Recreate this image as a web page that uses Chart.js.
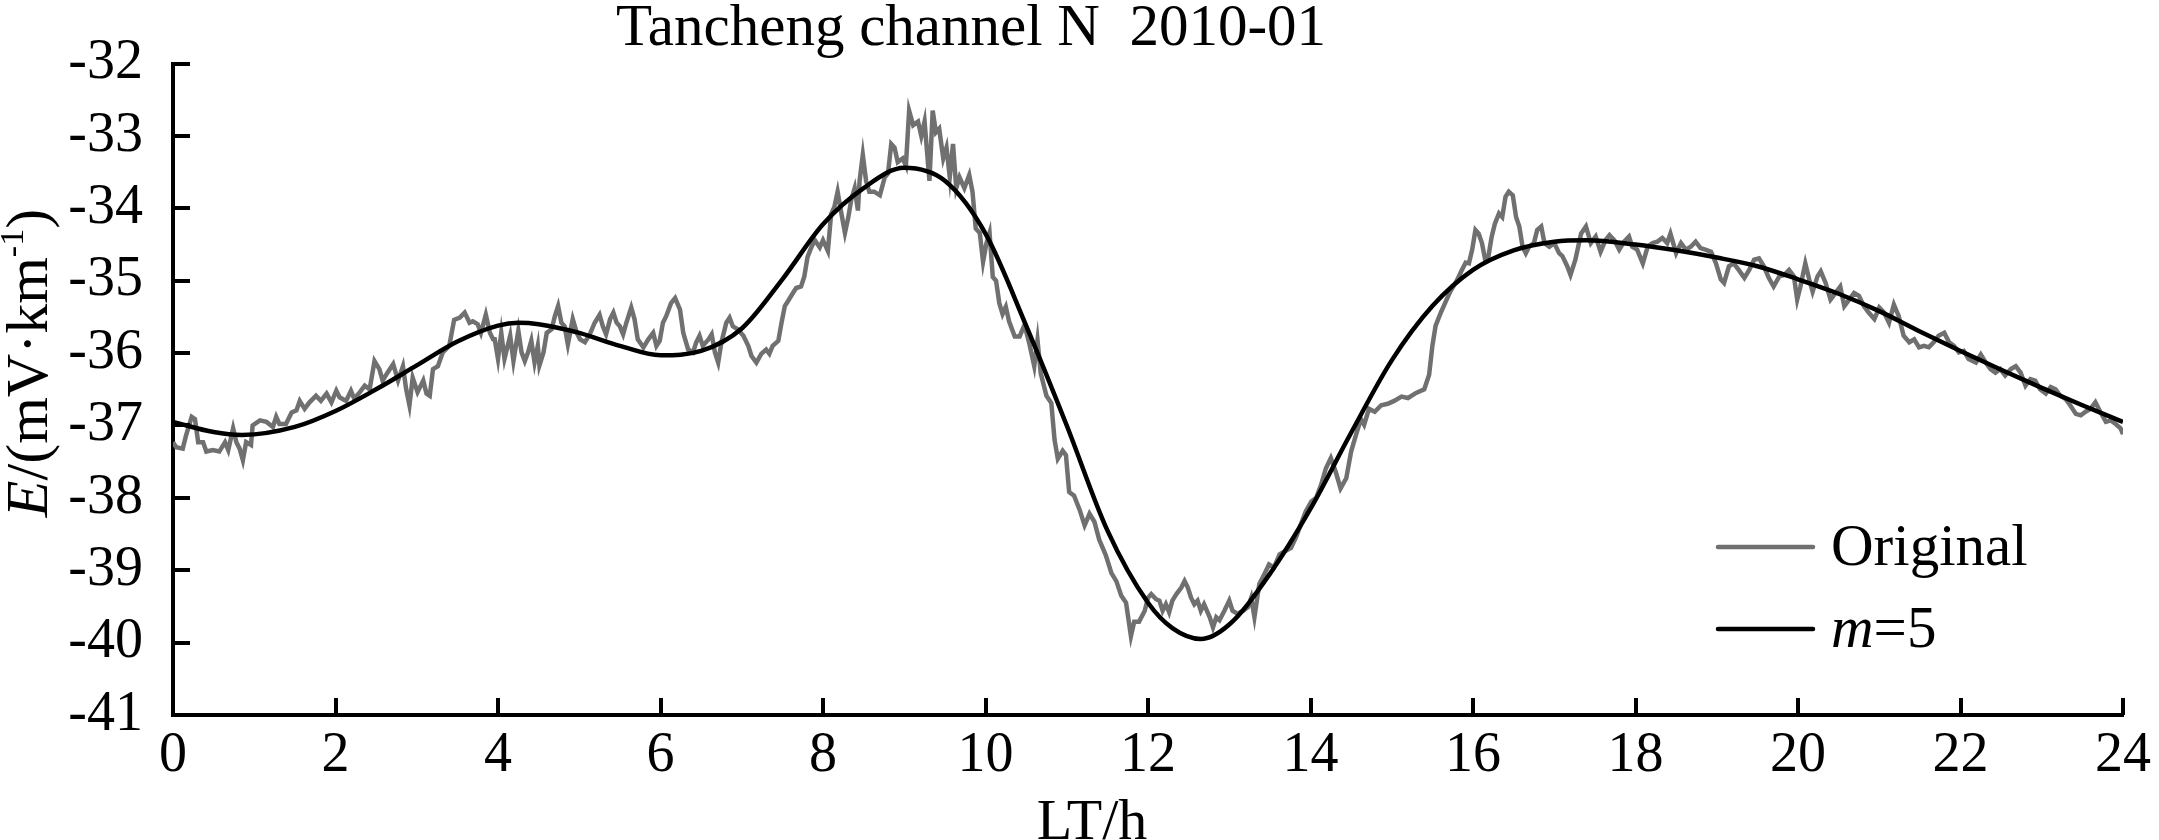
<!DOCTYPE html>
<html><head><meta charset="utf-8">
<script src="https://cdn.jsdelivr.net/npm/chart.js@4.4.0/dist/chart.umd.min.js"></script>
<style>html,body{margin:0;padding:0;background:#fff;}#wrap{width:2159px;height:840px;}</style>
</head><body><div id="wrap"><canvas id="c" width="2159" height="840"></canvas></div>
<script>
const chartTitle = 'Tancheng channel N  2010-01';
const xTitle = 'LT/h';
const yTitleParts = [['E','italic'],['/(mV·km','normal'],['-1','sup'],[')','normal']];
const seriesNames = ['Original', 'm=5'];
const xMin = 0, xMax = 24, xStep = 2;
const yMin = -41, yMax = -32, yStep = 1;

const origHours = [
0.00,0.04,0.12,0.16,0.23,0.27,0.31,0.37,0.41,0.49,0.57,0.64,0.68,0.74,0.78,0.82,0.86,0.90,0.96,0.98,
1.07,1.15,1.23,1.27,1.31,1.39,1.46,1.52,1.56,1.62,1.68,1.76,1.82,1.89,1.95,2.01,2.05,2.13,2.19,2.23,
2.30,2.36,2.42,2.48,2.54,2.58,2.64,2.71,2.77,2.83,2.87,2.91,2.95,3.01,3.08,3.12,3.16,3.20,3.26,3.32,
3.40,3.46,3.53,3.59,3.65,3.69,3.75,3.79,3.85,3.90,3.94,
3.96,4.00,4.04,4.08,4.15,4.19,4.25,4.29,4.33,4.37,4.41,4.45,4.49,4.51,4.56,4.60,4.66,4.70,4.74,4.78,
4.82,4.86,4.92,4.97,5.01,5.07,5.13,5.19,5.25,5.29,5.33,5.38,5.42,5.46,5.50,5.54,5.58,5.64,5.68,5.72,
5.79,5.85,5.91,5.95,5.99,6.03,6.07,6.13,6.18,6.24,6.28,6.34,6.40,6.44,6.48,6.52,6.59,6.63,6.67,6.71,
6.75,6.81,6.85,6.89,6.95,7.02,7.08,7.12,7.18,7.24,7.30,7.34,7.38,7.45,7.49,7.53,7.57,7.63,7.67,7.73,
7.77,7.81,7.86,7.90,
7.96,8.00,8.06,8.10,8.14,8.18,8.22,8.27,8.31,8.35,8.39,8.43,8.45,8.49,8.53,8.57,8.63,8.70,8.76,8.80,
8.84,8.88,8.92,8.98,9.02,9.06,9.11,9.17,9.21,9.25,9.31,9.35,9.39,9.43,9.48,9.52,9.56,9.60,9.64,9.68,
9.74,9.80,9.84,9.88,9.93,9.97,10.01,10.05,10.09,10.13,10.17,10.21,10.25,10.29,10.36,10.42,10.48,10.54,10.60,10.64,
10.68,10.75,10.81,10.85,10.89,10.95,10.99,11.03,11.09,11.16,11.22,11.28,11.34,11.40,11.48,11.55,11.61,11.67,11.73,11.79,
11.83,11.89,
11.96,12.00,12.04,12.10,12.14,12.18,12.22,12.26,12.30,12.35,12.41,12.45,12.49,12.53,12.57,12.61,12.65,12.69,12.76,12.80,
12.84,12.88,12.94,13.00,13.04,13.10,13.17,13.23,13.27,13.31,13.37,13.43,13.49,13.55,13.62,13.68,13.76,13.82,13.88,13.94,
14.01,14.07,14.13,14.19,14.25,14.31,14.37,14.44,14.50,14.56,14.62,14.66,14.72,14.79,14.87,14.95,15.03,15.12,15.20,15.30,
15.40,15.46,15.50,15.54,15.60,15.66,15.72,15.80,15.86,15.91,
15.95,15.99,16.03,16.07,16.11,16.15,16.19,16.23,16.27,16.32,16.36,16.40,16.44,16.49,16.53,16.57,16.61,16.65,16.69,16.75,
16.79,16.84,16.88,16.94,17.00,17.06,17.10,17.16,17.20,17.26,17.33,17.39,17.45,17.51,17.57,17.63,17.68,17.74,17.80,17.86,
17.92,17.96,18.02,18.09,18.15,18.21,18.27,18.33,18.39,18.43,18.50,18.56,18.62,18.68,18.74,18.80,18.86,18.93,18.99,19.05,
19.09,19.15,19.21,19.27,19.34,19.40,19.46,19.52,19.58,19.64,19.70,19.77,19.83,19.89,19.95,
19.99,20.03,20.09,20.14,20.18,20.24,20.28,20.34,20.40,20.46,20.52,20.57,20.63,20.69,20.75,20.81,20.87,20.94,21.00,21.06,
21.12,21.18,21.24,21.30,21.37,21.43,21.49,21.55,21.61,21.67,21.73,21.80,21.86,21.92,21.98,22.04,22.10,22.19,22.25,22.31,
22.37,22.43,22.49,22.55,22.62,22.68,22.74,22.80,22.86,22.92,22.98,23.05,23.11,23.17,23.23,23.29,23.35,23.42,23.48,23.54,
23.60,23.66,23.72,23.79,23.85,23.91,23.97,24.00
];
const origValues = [
-37.23,-37.30,-37.32,-37.14,-36.88,-36.91,-37.23,-37.23,-37.36,-37.34,-37.36,-37.23,-37.34,-37.04,-37.23,-37.32,-37.48,-37.23,-37.27,-37.00,
-36.93,-36.95,-37.02,-36.88,-36.98,-36.98,-36.82,-36.79,-36.66,-36.77,-36.68,-36.59,-36.66,-36.56,-36.68,-36.52,-36.61,-36.66,-36.52,-36.63,
-36.54,-36.45,-36.50,-36.11,-36.22,-36.38,-36.27,-36.15,-36.38,-36.18,-36.50,-36.72,-36.34,-36.54,-36.38,-36.56,-36.59,-36.22,-36.18,-35.99,
-35.90,-35.54,-35.51,-35.44,-35.58,-35.56,-35.60,-35.72,-35.47,-35.72,-35.81,
-35.81,-36.08,-35.72,-36.08,-35.76,-36.11,-35.69,-35.99,-36.11,-35.99,-35.83,-36.13,-35.90,-36.17,-35.99,-35.72,-35.67,-35.49,-35.35,-35.58,
-35.63,-35.88,-35.53,-35.72,-35.81,-35.85,-35.74,-35.58,-35.47,-35.63,-35.74,-35.53,-35.44,-35.58,-35.63,-35.74,-35.58,-35.37,-35.53,-35.81,
-35.92,-35.81,-35.72,-35.90,-35.83,-35.58,-35.49,-35.31,-35.24,-35.40,-35.72,-35.95,-35.99,-35.85,-35.76,-35.90,-35.81,-35.74,-35.99,-36.13,
-35.85,-35.58,-35.51,-35.63,-35.67,-35.76,-35.90,-36.04,-36.13,-36.01,-35.95,-36.01,-35.90,-35.83,-35.58,-35.35,-35.28,-35.17,-35.10,-35.08,
-34.94,-34.67,-34.53,-34.44,
-34.54,-34.44,-34.59,-34.08,-33.98,-33.77,-34.03,-34.34,-34.13,-33.87,-33.72,-34.03,-33.62,-33.26,-33.62,-33.77,-33.77,-33.82,-33.57,-33.52,
-33.11,-33.16,-33.36,-33.31,-33.41,-32.65,-32.85,-32.80,-33.00,-32.80,-33.62,-32.65,-32.95,-32.90,-33.31,-33.16,-33.57,-33.11,-33.72,-33.57,
-33.72,-33.54,-33.77,-34.28,-34.34,-34.74,-34.49,-34.34,-34.95,-35.00,-35.31,-35.46,-35.36,-35.56,-35.77,-35.77,-35.61,-35.87,-36.18,-35.82,
-36.28,-36.59,-36.69,-37.20,-37.46,-37.35,-37.41,-37.92,-37.97,-38.17,-38.38,-38.22,-38.33,-38.58,-38.79,-39.04,-39.15,-39.35,-39.45,-39.91,
-39.71,-39.71,
-39.56,-39.38,-39.33,-39.40,-39.42,-39.56,-39.47,-39.58,-39.42,-39.33,-39.24,-39.15,-39.24,-39.38,-39.47,-39.42,-39.56,-39.47,-39.65,-39.79,
-39.65,-39.69,-39.56,-39.42,-39.56,-39.60,-39.56,-39.51,-39.38,-39.65,-39.19,-39.06,-38.92,-38.96,-38.78,-38.74,-38.69,-38.55,-38.37,-38.19,
-38.05,-38.00,-37.82,-37.59,-37.45,-37.64,-37.87,-37.73,-37.36,-37.13,-36.91,-36.99,-36.77,-36.81,-36.72,-36.70,-36.66,-36.60,-36.62,-36.55,
-36.50,-36.30,-35.90,-35.62,-35.45,-35.30,-35.15,-35.00,-34.86,-34.75,
-34.76,-34.57,-34.30,-34.35,-34.48,-34.71,-34.66,-34.39,-34.21,-34.07,-34.12,-33.84,-33.77,-33.82,-34.12,-34.25,-34.53,-34.62,-34.53,-34.48,
-34.30,-34.25,-34.48,-34.53,-34.48,-34.62,-34.66,-34.80,-34.92,-34.71,-34.35,-34.25,-34.48,-34.39,-34.60,-34.44,-34.37,-34.44,-34.57,-34.46,
-34.39,-34.53,-34.57,-34.76,-34.53,-34.48,-34.46,-34.41,-34.48,-34.35,-34.62,-34.48,-34.57,-34.53,-34.46,-34.55,-34.57,-34.60,-34.76,-34.98,
-35.03,-34.80,-34.76,-34.85,-34.96,-34.85,-34.71,-34.69,-34.80,-34.96,-35.08,-34.94,-34.92,-34.85,-34.94,
-35.26,-35.08,-34.76,-34.99,-35.15,-34.94,-34.87,-35.03,-35.26,-35.17,-35.08,-35.35,-35.26,-35.17,-35.21,-35.35,-35.44,-35.53,-35.37,-35.44,
-35.58,-35.33,-35.49,-35.76,-35.85,-35.81,-35.92,-35.90,-35.92,-35.85,-35.76,-35.72,-35.85,-35.90,-35.99,-35.97,-36.08,-36.13,-36.02,-36.13,
-36.22,-36.27,-36.22,-36.31,-36.22,-36.18,-36.27,-36.45,-36.36,-36.38,-36.50,-36.56,-36.47,-36.50,-36.59,-36.63,-36.72,-36.84,-36.86,-36.81,
-36.77,-36.68,-36.81,-36.95,-36.93,-36.98,-37.04,-37.12
];
const fitHours = [0,0.5,0.85,1.5,2,2.5,3,3.5,4,4.25,4.5,5,5.5,6,6.5,7,7.5,8,8.5,9,9.5,10,10.5,11,11.5,12,12.3,12.65,13,13.5,14,14.5,15,15.5,16,16.5,17,17.4,18,18.5,19,19.5,20,20.5,21,21.5,22,22.5,23,23.5,24];
const fitValues = [-36.95,-37.09,-37.13,-37.02,-36.80,-36.50,-36.17,-35.84,-35.62,-35.58,-35.60,-35.72,-35.90,-36.03,-35.97,-35.66,-34.98,-34.22,-33.72,-33.44,-33.62,-34.35,-35.62,-37.00,-38.45,-39.45,-39.80,-39.95,-39.75,-39.05,-38.15,-37.10,-36.10,-35.35,-34.85,-34.58,-34.46,-34.44,-34.50,-34.58,-34.68,-34.80,-34.98,-35.18,-35.42,-35.70,-35.97,-36.23,-36.48,-36.72,-36.95];

const FONT = '"Liberation Serif", "Times New Roman", serif';
const origColor = 'rgb(112,112,112)';
const fitColor = '#000000';

const decor = {
  id: 'decor',
  afterDraw(chart) {
    const {ctx, chartArea, scales} = chart;
    const xs = scales.x, ys = scales.y;
    ctx.save();
    // inward ticks
    ctx.strokeStyle = '#000'; ctx.lineWidth = 4; ctx.lineCap = 'butt';
    xs.ticks.forEach(t => {
      const px = Math.round(xs.getPixelForValue(t.value));
      ctx.beginPath(); ctx.moveTo(px, chartArea.bottom); ctx.lineTo(px, chartArea.bottom - 17); ctx.stroke();
    });
    ys.ticks.forEach(t => {
      const py = Math.round(ys.getPixelForValue(t.value));
      ctx.beginPath(); ctx.moveTo(chartArea.left, py); ctx.lineTo(chartArea.left + 17, py); ctx.stroke();
    });
    // title
    ctx.fillStyle = '#000';
    ctx.textBaseline = 'alphabetic';
    ctx.textAlign = 'center';
    ctx.font = '59px ' + FONT;
    ctx.fillText(chartTitle, 971, 45);
    // x title
    ctx.font = '58px ' + FONT;
    ctx.fillText(xTitle, 1092, 839);
    // y title (rotated, mixed styles)
    ctx.save();
    ctx.translate(47, 363);
    ctx.rotate(-Math.PI / 2);
    const size = 60;
    const fontFor = st => (st === 'italic' ? 'italic ' + size + 'px ' : st === 'sup' ? Math.round(size * 0.56) + 'px ' : size + 'px ') + FONT;
    let total = 0;
    yTitleParts.forEach(([t, st]) => { ctx.font = fontFor(st); total += ctx.measureText(t).width; });
    let cx = -total / 2;
    ctx.textAlign = 'left';
    yTitleParts.forEach(([t, st]) => {
      ctx.font = fontFor(st);
      ctx.fillText(t, cx, st === 'sup' ? -size * 0.4 : 0);
      cx += ctx.measureText(t).width;
    });
    ctx.restore();
    // legend
    const ds = chart.data.datasets;
    const legendY = [547, 629];
    const baseY = [565, 647];
    ds.forEach((d, i) => {
      ctx.strokeStyle = d.borderColor; ctx.lineWidth = d.borderWidth; ctx.lineCap = 'round';
      ctx.beginPath(); ctx.moveTo(1718, legendY[i]); ctx.lineTo(1813, legendY[i]); ctx.stroke();
      ctx.fillStyle = '#000'; ctx.textAlign = 'left';
      const label = d.label;
      if (label.startsWith('m=')) {
        ctx.font = 'italic 59px ' + FONT;
        ctx.fillText('m', 1831, baseY[i]);
        const w = ctx.measureText('m').width;
        ctx.font = '59px ' + FONT;
        ctx.fillText(label.slice(1), 1831 + w, baseY[i]);
      } else {
        ctx.font = '59px ' + FONT;
        ctx.fillText(label, 1831, baseY[i]);
      }
    });
    ctx.restore();
  }
};

new Chart(document.getElementById('c'), {
  type: 'line',
  data: {
    datasets: [
      { label: seriesNames[0], data: origHours.map((h, i) => ({x: h, y: origValues[i]})),
        borderColor: origColor, borderWidth: 4.5, pointRadius: 0, tension: 0, order: 1 },
      { label: seriesNames[1], data: fitHours.map((h, i) => ({x: h, y: fitValues[i]})),
        borderColor: fitColor, borderWidth: 4.5, pointRadius: 0, cubicInterpolationMode: 'monotone', order: 0 }
    ]
  },
  options: {
    responsive: false, animation: false, devicePixelRatio: 1,
    layout: { padding: { top: 59, right: 29, left: 0, bottom: 0 } },
    plugins: { legend: { display: false }, tooltip: { enabled: false }, title: { display: false } },
    scales: {
      x: { type: 'linear', min: xMin, max: xMax,
        ticks: { stepSize: xStep, color: '#000', padding: 8, maxRotation: 0, font: { family: FONT, size: 56 } },
        grid: { display: false, drawTicks: false },
        border: { display: true, color: '#000', width: 4 },
        afterFit: s => { s.height = 125; } },
      y: { type: 'linear', min: yMin, max: yMax,
        ticks: { stepSize: yStep, color: '#000', padding: 30, font: { family: FONT, size: 56 } },
        grid: { display: false, drawTicks: false },
        border: { display: true, color: '#000', width: 4 },
        afterFit: s => { s.width = 173; } }
    }
  },
  plugins: [decor]
});
</script></body></html>
